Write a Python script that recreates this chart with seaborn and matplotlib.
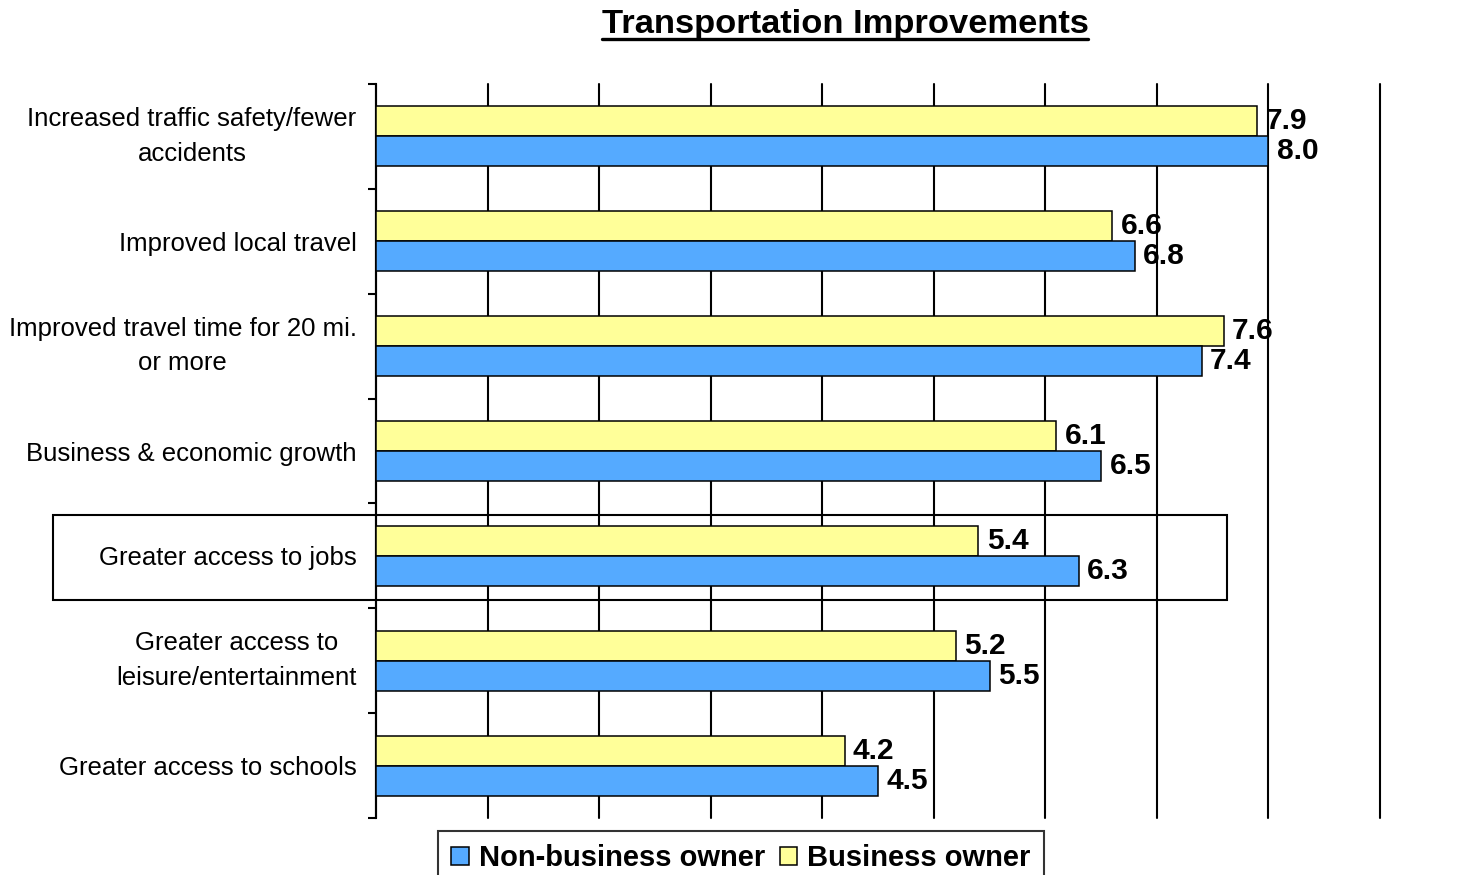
import matplotlib
matplotlib.use("Agg")
import matplotlib.pyplot as plt
import seaborn as sns
import pandas as pd
import numpy as np
from matplotlib.patches import Patch, Rectangle
from matplotlib.lines import Line2D

categories = [
    "Increased traffic safety/fewer\naccidents",
    "Improved local travel",
    "Improved travel time for 20 mi.\nor more",
    "Business & economic growth",
    "Greater access to jobs",
    "Greater access to\nleisure/entertainment",
    "Greater access to schools",
]
non_business = [8.0, 6.8, 7.4, 6.5, 6.3, 5.5, 4.5]
business = [7.9, 6.6, 7.6, 6.1, 5.4, 5.2, 4.2]
series_names = ["Non-business owner", "Business owner"]
colors = {"Non-business owner": "#55AAFF", "Business owner": "#FFFF99"}
title = "Transportation Improvements"

df = pd.DataFrame({
    "category": categories * 2,
    "value": non_business + business,
    "series": [series_names[0]] * len(categories) + [series_names[1]] * len(categories),
})

sns.set_theme(style="white")
plt.rcParams["font.family"] = ["Liberation Sans", "DejaVu Sans"]
plt.rcParams["text.color"] = "black"
plt.rcParams["axes.labelcolor"] = "black"
plt.rcParams["xtick.color"] = "black"
plt.rcParams["ytick.color"] = "black"

fig = plt.figure(figsize=(14.75, 8.75), dpi=100)
ax = fig.add_axes([376 / 1475, 1 - 818 / 875, (1380 - 376) / 1475, (818 - 84) / 875])

sns.barplot(data=df, y="category", x="value", hue="series",
            hue_order=["Business owner", "Non-business owner"],
            order=categories, palette=colors, saturation=1, width=0.572, orient="h",
            edgecolor="black", linewidth=1.1, ax=ax, legend=False, errorbar=None,
            zorder=3)

ax.set_xlim(0, 9)
ax.set_ylim(len(categories) - 0.5, -0.5)
ax.set_xticks(np.arange(0, 10, 1))
ax.set_xticklabels([])
ax.tick_params(axis="x", length=0)
ax.grid(axis="x", color="black", linewidth=1.5, zorder=0)
ax.grid(axis="y", visible=False)
ax.set_axisbelow(True)
for gl in ax.get_xgridlines():
    gl.set_clip_on(False)
ax.set_xlabel("")
ax.set_ylabel("")

for s in ["top", "right", "bottom"]:
    ax.spines[s].set_visible(False)
ax.spines["left"].set_color("black")
ax.spines["left"].set_linewidth(1.5)

ax.set_yticks(range(len(categories)))
ax.set_yticklabels(categories, fontsize=18.5, multialignment="center", linespacing=1.55,
                   color="black")
for lbl in ax.get_yticklabels():
    if "\n" in lbl.get_text():
        lbl.set_verticalalignment("center")
ax.tick_params(axis="y", which="major", length=0, pad=14)
ax.set_yticks(np.arange(-0.5, len(categories), 1), minor=True)
ax.tick_params(axis="y", which="minor", length=6, width=1.5, color="black", left=True)

for cont in ax.containers:
    ax.bar_label(cont, fmt="%.1f", padding=6, fontsize=21.5, fontweight="bold",
                 color="black", zorder=5)

# highlight box around "Greater access to jobs"
fig.add_artist(Rectangle((53 / 1475, 1 - 600 / 875), (1227 - 53) / 1475, 85 / 875,
                         transform=fig.transFigure, fill=False, edgecolor="black",
                         linewidth=1.5, zorder=10))

# title with underline
t = fig.text(845 / 1475, 1 - 25 / 875, title, ha="center", va="center",
             fontsize=24.8, fontweight="bold", color="black")
fig.canvas.draw()
bb = t.get_window_extent(renderer=fig.canvas.get_renderer()).transformed(fig.transFigure.inverted())
fig.add_artist(Line2D([bb.x0, bb.x1], [bb.y0 + 0.002, bb.y0 + 0.002],
                      transform=fig.transFigure, color="black", linewidth=2.4))

handles = [Patch(facecolor=colors[n], edgecolor="black", linewidth=1.1) for n in series_names]
leg = fig.legend(handles, series_names, loc="upper center", bbox_to_anchor=(741 / 1475, 1 - 831 / 875),
                 ncol=2, frameon=True, fancybox=False, edgecolor="black",
                 prop={"size": 21, "weight": "bold"}, handlelength=0.6, handleheight=0.6,
                 handletextpad=0.35, columnspacing=0.5, borderpad=0.45, borderaxespad=0)
leg.get_frame().set_linewidth(1.5)
for txt in leg.get_texts():
    txt.set_color("black")

fig.savefig("out.png", dpi=100)
